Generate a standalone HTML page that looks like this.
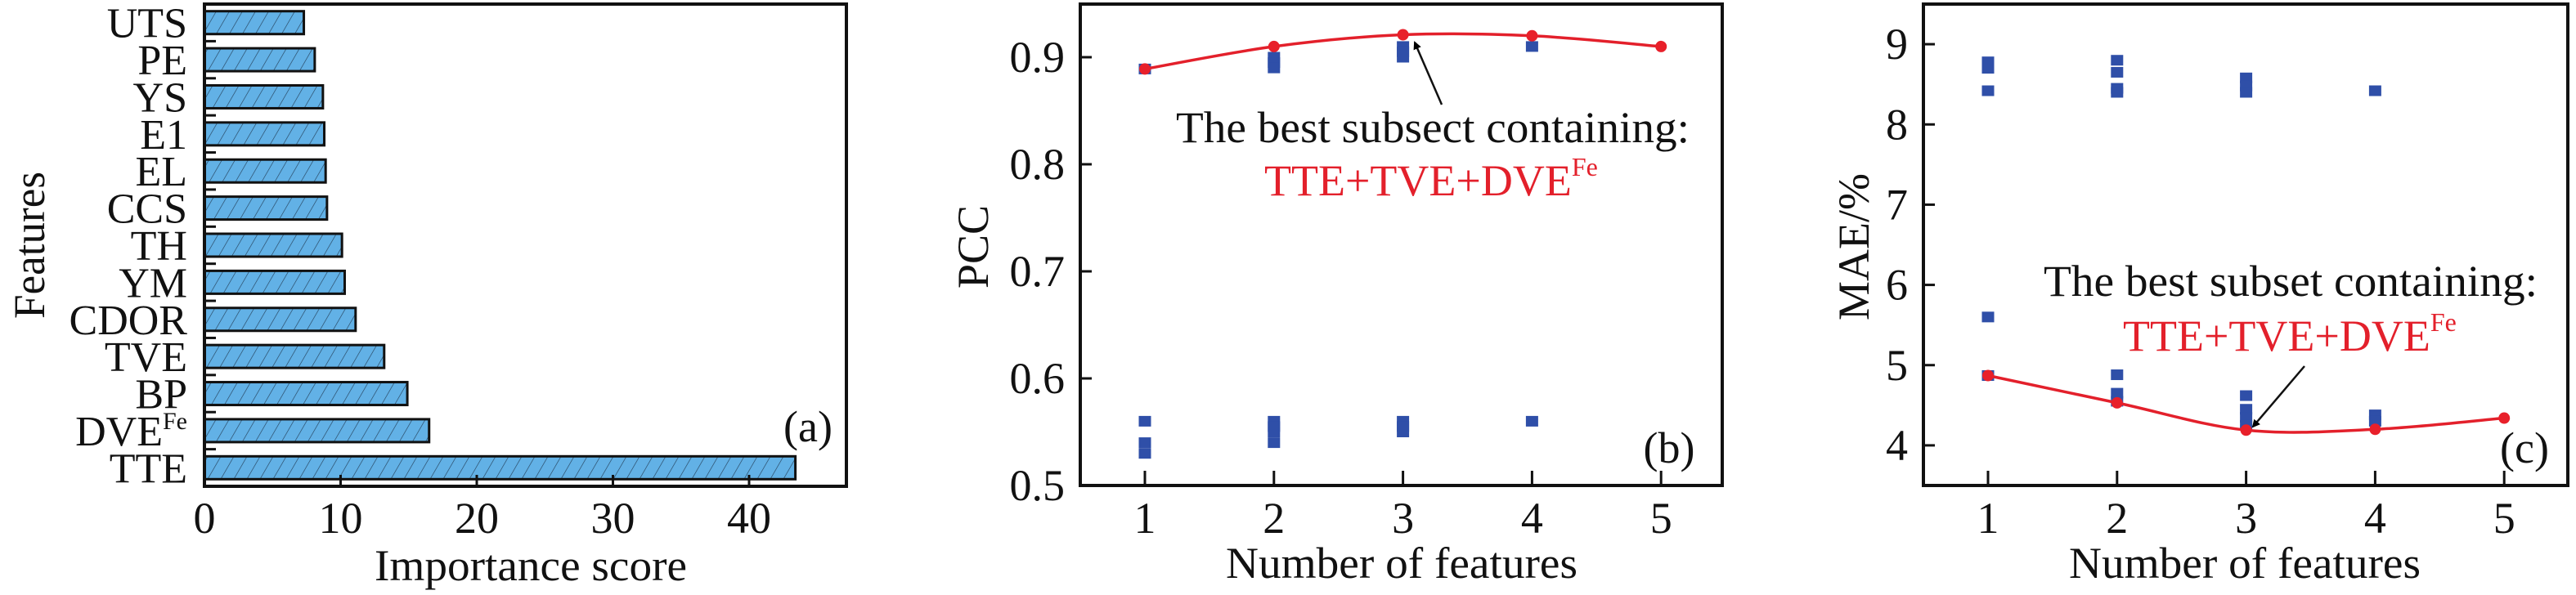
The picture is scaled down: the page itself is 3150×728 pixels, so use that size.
<!DOCTYPE html>
<html><head><meta charset="utf-8"><style>
html,body{margin:0;padding:0;background:#fff;}
svg{display:block;font-family:"Liberation Serif",serif;}
</style></head><body>
<svg id="fig" width="3150" height="728" viewBox="0 0 3150 728" xmlns="http://www.w3.org/2000/svg">
<defs>
<pattern id="hatch" patternUnits="userSpaceOnUse" width="16" height="30" patternTransform="skewX(-30)">
<rect width="16" height="30" fill="#62b1e6"/>
<line x1="0" y1="0" x2="0" y2="30" stroke="#2a4a66" stroke-width="1.6"/>
</pattern>
<marker id="arrowhead" markerWidth="10" markerHeight="10" refX="8" refY="5" orient="auto" markerUnits="userSpaceOnUse"><path d="M0,0 L10,5 L0,10 z" fill="#000"/></marker>
</defs>
<g id="pa"></g>
<g id="pb"></g>
<g id="pc"></g>
</svg>
<script>
// Panel (a) data
const featureNames = ["UTS","PE","YS","E1","EL","CCS","TH","YM","CDOR","TVE","BP","DVE","TTE"];
const importanceScores = [7.3,8.1,8.7,8.8,8.9,9.0,10.1,10.3,11.1,13.2,14.9,16.5,43.4];
const importanceTicks = [0,10,20,30,40];
// Panel (b) data
const featureCounts = [1,2,3,4,5];
const pccBest = [0.889,0.910,0.921,0.920,0.910];
const pccScatterX = [1,1,1,1, 2,2,2,2,2,2,2, 3,3,3,3,3,3, 4,4];
const pccScatterY = [0.889,0.56,0.54,0.53, 0.90,0.895,0.89,0.56,0.555,0.55,0.54, 0.91,0.905,0.90,0.56,0.555,0.55, 0.91,0.56];
const pccTicks = [0.5,0.6,0.7,0.8,0.9];
const pccTickLabels = ["0.5","0.6","0.7","0.8","0.9"];
// Panel (c) data
const maeBest = [4.87,4.53,4.19,4.20,4.34];
const maeScatterX = [1,1,1,1,1, 2,2,2,2,2,2,2, 3,3,3,3,3,3,3, 4,4,4];
const maeScatterY = [8.78,8.70,8.42,5.60,4.87, 8.80,8.65,8.45,8.40,4.88,4.65,4.55, 8.58,8.48,8.40,4.62,4.45,4.35,4.25, 8.42,4.38,4.30];
const maeTicks = [4,5,6,7,8,9];
const xTickLabels = ["1","2","3","4","5"];

const NS = "http://www.w3.org/2000/svg";
function mk(parent, tag, attrs, text){
  const e = document.createElementNS(NS, tag);
  for (const k in attrs) e.setAttribute(k, attrs[k]);
  if (text !== undefined) e.textContent = text;
  parent.appendChild(e);
  return e;
}
function lin(d0,d1,r0,r1){ return v => r0 + (v-d0)*(r1-r0)/(d1-d0); }
function catmull(pts){
  let d = "M"+pts[0][0]+","+pts[0][1];
  for (let i=0;i<pts.length-1;i++){
    const p0=pts[Math.max(i-1,0)], p1=pts[i], p2=pts[i+1], p3=pts[Math.min(i+2,pts.length-1)];
    const c1=[p1[0]+(p2[0]-p0[0])/6, p1[1]+(p2[1]-p0[1])/6];
    const c2=[p2[0]-(p3[0]-p1[0])/6, p2[1]-(p3[1]-p1[1])/6];
    d += " C"+c1[0]+","+c1[1]+" "+c2[0]+","+c2[1]+" "+p2[0]+","+p2[1];
  }
  return d;
}

// ---------- Panel A ----------
(function(){
  const g = document.getElementById('pa');
  const L=250, R=1035, T=5, B=595;
  const x = lin(0,10,L,L+166.5);
  const n = featureNames.length, slot=(B-T)/n;
  featureNames.forEach((name,i)=>{
    const cy = T + slot*(i+0.5);
    const bar = mk(g,'rect',{x:L, y:cy-14, width:x(importanceScores[i])-L, height:28, fill:'url(#hatch)', stroke:'#111', 'stroke-width':3});
    
    
    const t = mk(g,'text',{x:229, y:cy+18, 'font-size':52, 'text-anchor':'end', fill:'#111'}, name);
    
    
    if (name==="DVE"){ mk(t,'tspan',{'font-size':30, dy:-20}, 'Fe'); t.setAttribute('x',229); }
    if (i>0){
      const tk = mk(g,'line',{x1:L, x2:L+14, y1:T+slot*i, y2:T+slot*i, stroke:'#111','stroke-width':3});
      
      
    }
  });
  importanceTicks.forEach(v=>{
    const tk = mk(g,'line',{x1:x(v), x2:x(v), y1:B, y2:B-14, stroke:'#111','stroke-width':3});
    
    
    const t = mk(g,'text',{x:x(v), y:652, 'font-size':54, 'text-anchor':'middle', fill:'#111'}, String(v));
    
    
  });
  const fr = mk(g,'rect',{x:L,y:T,width:R-L,height:B-T,fill:'none',stroke:'#111','stroke-width':4});
  
  
  const xt = mk(g,'text',{x:649, y:710, 'font-size':54, 'text-anchor':'middle', textLength:382, lengthAdjust:'spacingAndGlyphs', fill:'#111'}, 'Importance score');
  
  
  const yt = mk(g,'text',{x:0, y:0, 'font-size':54, 'text-anchor':'middle', textLength:180, lengthAdjust:'spacingAndGlyphs', fill:'#111', transform:'translate(54,300) rotate(-90)'}, 'Features');
  
  
  const pl = mk(g,'text',{x:988, y:540, 'font-size':54, 'text-anchor':'middle', fill:'#111'}, '(a)');
  
  
})();

// ---------- Panels B & C ----------
function linePanel(opts){
  const g = document.getElementById(opts.id);
  const {L,R,T,B} = opts;
  const x = lin(1,2,opts.x1,opts.x1+157.8);
  const y = lin(opts.ymin,opts.ymax,B,T);
  opts.sx.forEach((xv,i)=>{
    const r = mk(g,'rect',{x:x(xv)-7.5, y:y(opts.sy[i])-6.5, width:15, height:13, fill:'#2f4fa8'});
    
    
  });
  const pts = featureCounts.map((c,i)=>[x(c), y(opts.best[i])]);
  const p = mk(g,'path',{d:catmull(pts), fill:'none', stroke:'#e3202b','stroke-width':3.5});
  
  
  pts.forEach(q=>{
    const c = mk(g,'circle',{cx:q[0], cy:q[1], r:7, fill:'#e8202a'});
    
    
  });
  featureCounts.forEach((c,i)=>{
    const tk = mk(g,'line',{x1:x(c), x2:x(c), y1:B, y2:B-18, stroke:'#111','stroke-width':3});
    
    
    const t = mk(g,'text',{x:x(c), y:652, 'font-size':54, 'text-anchor':'middle', fill:'#111'}, xTickLabels[i]);
    
    
  });
  opts.yticks.forEach((v,i)=>{
    const tk = mk(g,'line',{x1:L, x2:L+14, y1:y(v), y2:y(v), stroke:'#111','stroke-width':3});
    
    
    const t = mk(g,'text',{x:opts.ylabX, y:y(v)+18, 'font-size':54, 'text-anchor':'end', fill:'#111'}, opts.ylabels[i]);
    
    
  });
  const fr = mk(g,'rect',{x:L,y:T,width:R-L,height:B-T,fill:'none',stroke:'#111','stroke-width':4});
  
  
  const xt = mk(g,'text',{x:opts.xtX, y:707, 'font-size':54, 'text-anchor':'middle', textLength:430, lengthAdjust:'spacingAndGlyphs', fill:'#111'}, 'Number of features');
  
  
  const yt = mk(g,'text',{x:0,y:0,'font-size':54,'text-anchor':'middle', fill:'#111', transform:'translate('+opts.ytX+',302) rotate(-90)'}, opts.ytitle);
  
  
  const a1 = mk(g,'text',{x:opts.ann.x, y:opts.ann.y1, 'font-size':54, textLength:opts.ann.w1, lengthAdjust:'spacingAndGlyphs', fill:'#111'}, opts.ann.text);
  
  
  const a2 = mk(g,'text',{x:opts.ann.x2, y:opts.ann.y2, 'font-size':54, fill:'#e3202b'}, 'TTE+TVE+DVE');
  mk(a2,'tspan',{'font-size':32, dy:-24}, 'Fe');
  
  
  const ar = mk(g,'line',{x1:opts.arrow[0],y1:opts.arrow[1],x2:opts.arrow[2],y2:opts.arrow[3],stroke:'#111','stroke-width':2.5,'marker-end':'url(#arrowhead)'});
  
  
  const pl = mk(g,'text',{x:opts.plX, y:566, 'font-size':54, 'text-anchor':'middle', fill:'#111'}, opts.plabel);
  
  
}
linePanel({id:'pb', L:1321, R:2106, T:5, B:594, x1:1400, ymin:0.5, ymax:0.5+589/1310,
  sx:pccScatterX, sy:pccScatterY, best:pccBest, yticks:pccTicks, ylabels:pccTickLabels, ylabX:1302,
  xtX:1714, ytX:1208, ytitle:'PCC',
  ann:{x:1438, y1:174, w1:628, text:'The best subsect containing:', x2:1546, y2:239},
  arrow:[1763,128,1730,52], plX:2041, plabel:'(b)'});
linePanel({id:'pc', L:2352, R:3140, T:5, B:594, x1:2431, ymin:3.5, ymax:9.5,
  sx:maeScatterX, sy:maeScatterY, best:maeBest, yticks:maeTicks, ylabels:maeTicks.map(String), ylabX:2333,
  xtX:2745, ytX:2285, ytitle:'MAE/%',
  ann:{x:2499, y1:362, w1:604, text:'The best subset containing:', x2:2596, y2:429},
  arrow:[2818,448,2755,522], plX:3087, plabel:'(c)'});
</script>
</body></html>
